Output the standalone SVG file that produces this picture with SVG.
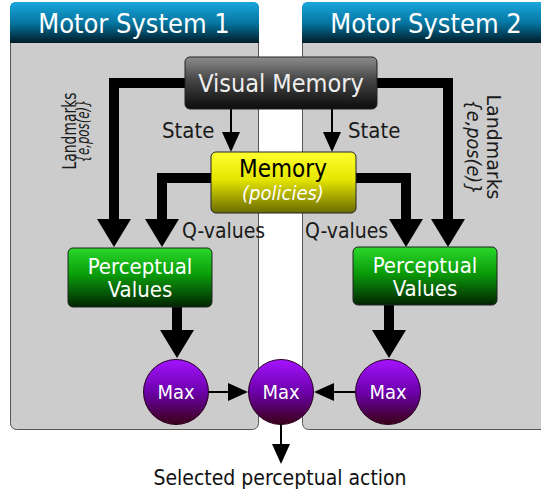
<svg xmlns="http://www.w3.org/2000/svg" width="541" height="495" viewBox="0 0 541 495">
<defs>
<linearGradient id="gHead" x1="0" y1="0" x2="0" y2="1">
<stop offset="0" stop-color="#1aa6dc"/><stop offset="0.5" stop-color="#0677a3"/><stop offset="1" stop-color="#001c28"/>
</linearGradient>
<linearGradient id="gGray" x1="0" y1="0" x2="0" y2="1">
<stop offset="0" stop-color="#8c8c8c"/><stop offset="0.45" stop-color="#444"/><stop offset="1" stop-color="#0c0c0c"/>
</linearGradient>
<linearGradient id="gYellow" x1="0" y1="0" x2="0" y2="1">
<stop offset="0" stop-color="#ffff30"/><stop offset="0.45" stop-color="#e6e600"/><stop offset="1" stop-color="#6a6a00"/>
</linearGradient>
<linearGradient id="gGreen" x1="0" y1="0" x2="0" y2="1">
<stop offset="0" stop-color="#2ad82a"/><stop offset="0.45" stop-color="#0a9c0a"/><stop offset="1" stop-color="#022402"/>
</linearGradient>
<linearGradient id="gPurple" x1="0" y1="0" x2="0" y2="1">
<stop offset="0" stop-color="#a414ff"/><stop offset="0.5" stop-color="#6c00aa"/><stop offset="1" stop-color="#3a0018"/>
</linearGradient>
<marker id="big" viewBox="0 -17 28 34" markerWidth="28" markerHeight="34" markerUnits="userSpaceOnUse" refX="1" refY="0" orient="auto">
<path d="M0,-17 L28,0 L0,17 z" fill="#000"/>
</marker>
<marker id="thin" viewBox="0 -9 20 18" markerWidth="20" markerHeight="18" markerUnits="userSpaceOnUse" refX="1" refY="0" orient="auto">
<path d="M0,-9 L20,0 L0,9 z" fill="#000"/>
</marker>
</defs>
<style>
text{font-family:"DejaVu Sans Condensed","DejaVu Sans",sans-serif;font-stretch:condensed}
.panel{fill:#cccccc;stroke:#555;stroke-width:1}
.head{fill:url(#gHead)}
.htxt{font-size:27px;fill:#fff;text-anchor:middle}
.box{stroke:#222;stroke-width:1}
.thick{fill:none;stroke:#000;stroke-width:10;marker-end:url(#big)}
.thinl{fill:none;stroke:#000;stroke-width:2;marker-end:url(#thin)}
.lbl{fill:#1a1a1a}
.wtxt{fill:#fff;text-anchor:middle}
</style>
<rect width="541" height="495" fill="#fff"/>
<g id="motor-system-1">
<rect class="panel" x="10.5" y="2.5" width="248" height="427" rx="6"/>
<path class="head" d="M10,43 V8 Q10,2 16,2 H253 Q259,2 259,8 V43 z"/>
<text class="htxt" x="134" y="33">Motor System 1</text>
</g>
<g id="motor-system-2">
<rect class="panel" x="302.5" y="2.5" width="248" height="427" rx="6"/>
<path class="head" d="M302,43 V8 Q302,2 308,2 H545 Q551,2 551,8 V43 z"/>
<text class="htxt" x="426" y="33">Motor System 2</text>
</g>
<g id="connectors">
<path class="thick" d="M190,83 H114 V220"/>
<path class="thick" d="M215,178 H162 V220"/>
<path class="thick" d="M352,178 H406 V220"/>
<path class="thick" d="M372,83 H448 V220"/>
<path class="thick" d="M177,306 V331"/>
<path class="thick" d="M389,304 V331"/>
<path class="thinl" d="M231,109 V133"/>
<path class="thinl" d="M332,109 V133"/>
<path class="thinl" d="M208,392 H229"/>
<path class="thinl" d="M356,392 H333"/>
<path class="thinl" d="M281,424 V445"/>
<text class="lbl" x="162" y="138" style="font-size:22px">State</text>
<text class="lbl" x="348" y="138" style="font-size:22px">State</text>
<text class="lbl" x="182" y="238" style="font-size:21px">Q-values</text>
<text class="lbl" x="305" y="238" style="font-size:21px">Q-values</text>
<g transform="translate(76,131) rotate(-90)">
<text class="lbl" x="0" y="0" text-anchor="middle" style="font-size:20px" textLength="77" lengthAdjust="spacingAndGlyphs">Landmarks</text>
<text class="lbl" x="0" y="13" text-anchor="middle" style="font-size:17px;font-style:italic" textLength="63" lengthAdjust="spacingAndGlyphs">{e,pos(e)}</text>
</g>
<g transform="translate(487,147) rotate(90)">
<text class="lbl" x="0" y="0" text-anchor="middle" style="font-size:20px" textLength="105" lengthAdjust="spacingAndGlyphs">Landmarks</text>
<text class="lbl" x="0" y="20" text-anchor="middle" style="font-size:20px;font-style:italic" textLength="95" lengthAdjust="spacingAndGlyphs">{e,pos(e)}</text>
</g>
</g>
<g id="visual-memory">
<rect class="box" x="185" y="57" width="192" height="52" rx="5" fill="url(#gGray)"/>
<text class="wtxt" x="281" y="92" style="font-size:25px;fill:#eee">Visual Memory</text>
</g>
<g id="memory">
<rect class="box" x="211" y="152" width="145" height="61" rx="5" fill="url(#gYellow)"/>
<text x="283" y="177" text-anchor="middle" style="font-size:24px;fill:#000">Memory</text>
<text class="wtxt" x="283" y="200" style="font-size:20px;font-style:italic">(policies)</text>
</g>
<g id="perceptual-values-1">
<rect class="box" x="68" y="248" width="144" height="59" rx="5" fill="url(#gGreen)"/>
<text class="wtxt" x="140" y="274" style="font-size:22px">Perceptual</text>
<text class="wtxt" x="140" y="297" style="font-size:22px">Values</text>
</g>
<g id="perceptual-values-2">
<rect class="box" x="353" y="247" width="144" height="58" rx="5" fill="url(#gGreen)"/>
<text class="wtxt" x="425" y="273" style="font-size:22px">Perceptual</text>
<text class="wtxt" x="425" y="296" style="font-size:22px">Values</text>
</g>
<g id="max-1">
<circle cx="176" cy="392" r="32.5" fill="url(#gPurple)" stroke="#2a0020"/>
<text class="wtxt" x="176" y="399" style="font-size:20px">Max</text>
</g>
<g id="max-center">
<circle cx="281" cy="392" r="32.5" fill="url(#gPurple)" stroke="#2a0020"/>
<text class="wtxt" x="281" y="399" style="font-size:20px">Max</text>
</g>
<g id="max-2">
<circle cx="388" cy="392" r="32.5" fill="url(#gPurple)" stroke="#2a0020"/>
<text class="wtxt" x="388" y="399" style="font-size:20px">Max</text>
</g>
<g id="output">
<text x="280" y="485" text-anchor="middle" style="font-size:21px;fill:#111">Selected perceptual action</text>
</g>
</svg>
